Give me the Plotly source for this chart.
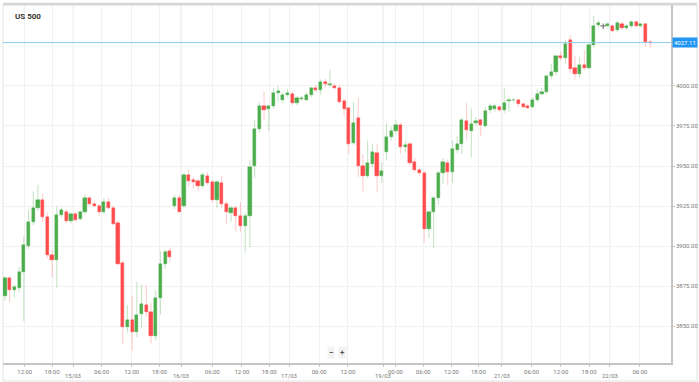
import plotly.graph_objects as go

# ---------------- data ----------------
opens = [3869, 3880, 3872.5, 3873.5, 3884, 3900, 3915, 3924, 3929, 3918,
         3894.5, 3891.5, 3919.5, 3921, 3915.5, 3920, 3917, 3921, 3930, 3926.5,
         3925, 3921, 3927.5, 3923.5, 3914.5, 3889.5, 3849.5, 3854, 3846.5, 3857.5,
         3863, 3859, 3844, 3867.5, 3889, 3897, 3925, 3930, 3925, 3944.5,
         3941, 3940.5, 3937.5, 3944, 3940, 3929, 3939.5, 3926, 3920.5, 3924,
         3918.5, 3912.5, 3919, 3950, 3973, 3987.5, 3985.5, 3987.5, 3995.5, 3991.5,
         3994.5, 3995, 3989.5, 3992, 3991.5, 3994.5, 3998.5, 3997.5, 4002.5, 4000.5,
         4000, 3999, 3990.5, 3986, 3964.5, 3980, 3950, 3943.5, 3951.5, 3958,
         3944, 3959, 3968, 3972, 3975.5, 3962, 3963.5, 3952.5, 3947.5, 3945.5,
         3910.5, 3921, 3930, 3945.5, 3952, 3946, 3960, 3964, 3978, 3972,
         3977, 3978.5, 3975, 3985, 3985.5, 3987, 3985, 3990.5, 3991, 3991,
         3988.5, 3987.5, 3987, 3991.5, 3995, 3996.5, 4006, 4009, 4018.5, 4017.5,
         4029, 4011, 4007.5, 4013, 4011.5, 4025.5, 4038, 4037.5, 4037.5, 4037.5,
         4035, 4039, 4036, 4037.5, 4040, 4037.5, 4038.5, 4027.5]
highs = [3881, 3881, 3876, 3887, 3906, 3922.5, 3934, 3938, 3932.5, 3921,
         3897.5, 3924.5, 3924, 3923, 3921, 3921, 3922, 3932, 3931, 3928,
         3926, 3930, 3930, 3925, 3916, 3891, 3863, 3869, 3877.5, 3876,
         3875.5, 3864.5, 3872.5, 3897, 3898, 3899, 3932, 3932, 3946, 3947.5,
         3943, 3942, 3946, 3946, 3941, 3941, 3944, 3928, 3925, 3925,
         3927.5, 3921, 3954, 3979, 3990, 3996.5, 3988, 3998.5, 4000, 3996,
         3998, 3997, 3993.5, 3994, 3996, 3999.5, 4001, 4004, 4004.5, 4010,
         4001.5, 4001, 3992, 3987, 3990, 3993, 3957.5, 3966, 3964, 3964,
         3952.5, 3976.5, 3974.5, 3978.5, 3977, 3966, 3965, 3955, 3949, 3946.5,
         3922, 3931, 3947, 3955, 3954, 3966, 3968.5, 3980, 3989.5, 3986,
         3980.5, 3979.5, 3987, 3989, 3989, 3988, 3998.5, 3993, 3992.5, 3992,
         3989.5, 3988.5, 3993, 3998, 3999, 4006.5, 4014, 4019, 4021.5, 4029,
         4032, 4018.5, 4018, 4022.5, 4027, 4044, 4041, 4039, 4040, 4038.5,
         4041, 4040, 4038.5, 4041, 4041, 4039, 4039.5, 4029]
lows = [3866, 3865, 3868, 3871, 3853, 3898, 3913, 3922, 3915, 3892.5,
        3880.5, 3874, 3918, 3914, 3914, 3915.5, 3916, 3920, 3925, 3924,
        3919, 3920, 3923, 3913, 3888, 3839, 3846, 3834.5, 3843, 3848.5,
        3856, 3839, 3841, 3857, 3886, 3890, 3923, 3921, 3924, 3937,
        3936, 3934.5, 3936, 3938, 3927, 3923.5, 3923.5, 3913.5, 3915, 3909,
        3909, 3896, 3899.5, 3942.5, 3971, 3979, 3972, 3986, 3990, 3989,
        3993, 3988, 3988, 3991, 3990.5, 3993, 3996.5, 3994.5, 3999, 3999.5,
        3998, 3989, 3981, 3957.5, 3963, 3943, 3933.5, 3942.5, 3949, 3933.5,
        3939.5, 3953.5, 3966, 3970, 3958, 3958.5, 3950.5, 3946, 3944, 3902,
        3905, 3898.5, 3925.5, 3939, 3938, 3939.5, 3958, 3957.5, 3966.5, 3955.5,
        3975, 3968.5, 3974, 3983, 3984, 3983.5, 3983, 3984, 3990, 3987,
        3986, 3985.5, 3986, 3990, 3994, 3995, 4004.5, 4006.5, 4016, 4014,
        4008, 4004, 4005, 4010, 4010.5, 4024, 4036.5, 4035.5, 4036, 4033.5,
        4033.5, 4035, 4035, 4036.5, 4036.5, 4036.5, 4024.5, 4023.5]
closes = [3880, 3872.5, 3874.5, 3884, 3900.5, 3915, 3924, 3929, 3918, 3894.5,
          3891.5, 3919.5, 3922.5, 3915.5, 3920, 3916.5, 3921, 3930, 3926, 3925,
          3921, 3927.5, 3924, 3914, 3889, 3849.5, 3854, 3846.5, 3857, 3863.5,
          3859, 3844, 3867.5, 3889, 3896.5, 3893, 3930, 3921.5, 3944.5, 3940.5,
          3940, 3937.5, 3944.5, 3939.5, 3929, 3940, 3926.5, 3921, 3924, 3918.5,
          3912.5, 3919, 3949.5, 3973, 3987.5, 3985, 3987.5, 3995.5, 3997, 3994.5,
          3995.5, 3989.5, 3992.5, 3992.5, 3994.5, 3998.5, 3997.5, 4002.5, 4001, 4001.5,
          3999, 3990, 3985.5, 3963.5, 3977, 3950, 3944, 3952, 3958.5, 3944,
          3947, 3968, 3972, 3975.5, 3962, 3963, 3952, 3947.5, 3945.5, 3910.5,
          3921, 3930, 3945.5, 3952.5, 3946, 3960.5, 3964, 3979, 3972.5, 3976.5,
          3978, 3975.5, 3984.5, 3987.5, 3987.5, 3985, 3989.5, 3991, 3991.5, 3988.5,
          3987, 3986.5, 3991.5, 3995, 3996.5, 4006, 4009, 4018.5, 4017.5, 4026.5,
          4010.5, 4007.5, 4013, 4011.5, 4025.5, 4037.5, 4039.5, 4037.5, 4038.5, 4034.5,
          4039.5, 4036, 4037.5, 4040, 4037.5, 4038.5, 4027.5, 4027.11]

time_tick_pos = [4.2, 10.0, 20.5, 26.9, 32.8, 44.0, 50.3, 56.1, 66.7, 72.8,
                 82.9, 88.8, 94.8, 100.5, 111.8, 118.0, 124.0, 134.8]
time_tick_labels = ["12:00", "18:00", "06:00", "12:00", "18:00", "06:00", "12:00", "18:00",
                    "06:00", "12:00", "00:00", "06:00", "12:00", "18:00", "06:00", "12:00",
                    "18:00", "06:00"]
date_tick_pos = [14.5, 37.4, 60.4, 80.3, 105.5, 128.4]
date_tick_labels = ["15/03", "16/03", "17/03", "19/03", "21/03", "22/03"]

price_ticks = [3850, 3875, 3900, 3925, 3950, 3975, 4000]
last_price = 4027.11
title_text = "US 500"

# ---------------- styles ----------------
UP = "#4cae4c"
DOWN = "#ff4d4d"
UP_WICK = "rgba(76,174,76,0.35)"
DOWN_WICK = "rgba(255,77,77,0.30)"
FLAT = "#666666"
FONT = "Roboto"
LABEL = "#7a7a7a"

n = len(opens)
idx = list(range(n))

fig = go.Figure()

# wicks
groups = {"up": ([], []), "down": ([], []), "flat": ([], [])}
for i in idx:
    g = "up" if closes[i] > opens[i] else ("down" if closes[i] < opens[i] else "flat")
    xs, ys = groups[g]
    xs += [i, i, None]
    ys += [lows[i], highs[i], None]
for g, col in (("up", UP_WICK), ("down", DOWN_WICK), ("flat", FLAT)):
    xs, ys = groups[g]
    fig.add_trace(go.Scatter(x=xs, y=ys, mode="lines", line=dict(color=col, width=1),
                             hoverinfo="skip", showlegend=False))

# bodies
for direction, col in (("up", UP), ("down", DOWN)):
    bx, bbase, bh = [], [], []
    for i in idx:
        if (direction == "up" and closes[i] > opens[i]) or (direction == "down" and closes[i] < opens[i]):
            bx.append(i)
            bbase.append(min(opens[i], closes[i]))
            bh.append(abs(closes[i] - opens[i]))
    fig.add_trace(go.Bar(x=bx, y=bh, base=bbase, width=0.68,
                         marker=dict(color=col, line=dict(color=col, width=0.4)),
                         showlegend=False, hoverinfo="skip"))

# flat (doji) bodies
fx = [i for i in idx if closes[i] == opens[i]]
fy = [opens[i] for i in fx]
fig.add_trace(go.Scatter(x=fx, y=fy, mode="markers",
                         marker=dict(symbol="line-ew", size=4, line=dict(color=FLAT, width=1)),
                         showlegend=False, hoverinfo="skip"))

# ticks: time labels on the axis, day boundaries get a tick with the date on a second row
all_pos = time_tick_pos + date_tick_pos
all_txt = time_tick_labels + [""] * len(date_tick_pos)
order = sorted(range(len(all_pos)), key=lambda k: all_pos[k])
tickvals = [all_pos[k] for k in order]
ticktext = [all_txt[k] for k in order]

for p, d in zip(date_tick_pos, date_tick_labels):
    fig.add_shape(type="line", xref="x", yref="paper", x0=p, x1=p, y0=0, y1=1,
                  line=dict(color="#e4e4e4", width=1), layer="below")
    fig.add_annotation(xref="x", yref="paper", x=p, y=-0.0363, xanchor="center", yanchor="middle",
                       text=d, showarrow=False, font=dict(family=FONT, size=6, color=LABEL))

# last price line
fig.add_shape(type="line", xref="paper", yref="y", x0=0, x1=1, y0=last_price, y1=last_price,
              line=dict(color="#8ecdf0", width=1))
fig.add_annotation(xref="paper", yref="y", x=1.0, y=last_price, xanchor="left", yanchor="middle",
                   text=f"{last_price:.2f}", showarrow=False,
                   font=dict(family=FONT, size=6, color="white"),
                   bgcolor="#2196f3", borderpad=1, xshift=1)

# title
fig.add_annotation(xref="paper", yref="paper", x=0.0145, y=0.969, xanchor="left", yanchor="middle",
                   text=f"<b>{title_text}</b>", showarrow=False,
                   font=dict(family=FONT, size=8, color="#333333"))

# zoom controls
for xp, t in ((0.4906, "−"), (0.5085, "+")):
    fig.add_annotation(xref="paper", yref="paper", x=xp, y=0.028, xanchor="center", yanchor="middle",
                       text=f"<b>{t}</b>", showarrow=False, bgcolor="#f3f3f3",
                       font=dict(family=FONT, size=8, color="#555555"), borderpad=1)

# outer frame
fig.add_shape(type="rect", xref="paper", yref="paper", x0=0, x1=(697 - 3) / 668,
              y0=(363 - 381) / 358, y1=1, line=dict(color="#e2e2e2", width=1), layer="below")
fig.add_shape(type="line", xref="paper", yref="paper", x0=0, x1=(697 - 3) / 668, y0=1.003, y1=1.003,
              line=dict(color="#d6d6d6", width=2.5))

fig.update_layout(
    width=699, height=382,
    margin=dict(l=3, r=28, t=5, b=19, autoexpand=False),
    paper_bgcolor="white", plot_bgcolor="white",
    barmode="overlay", bargap=0, showlegend=False,
    font=dict(family=FONT, size=6, color=LABEL),
    xaxis=dict(range=[-0.42, 141.4], tickmode="array", tickvals=tickvals, ticktext=ticktext,
               showgrid=True, gridcolor="#f1f1f1", gridwidth=1, zeroline=False,
               showline=True, linecolor="#c4c4c4", linewidth=1.5,
               ticks="outside", ticklen=2, tickcolor="#c4c4c4", tickangle=0, automargin=False,
               tickfont=dict(family=FONT, size=6, color=LABEL), fixedrange=True),
    yaxis=dict(range=[3826.9, 4050.6], side="right", tickmode="array", tickvals=price_ticks,
               ticktext=[f"{v:.2f}" for v in price_ticks], automargin=False,
               showgrid=True, gridcolor="#f1f1f1", gridwidth=1, zeroline=False,
               showline=True, linecolor="#c4c4c4", linewidth=1.5,
               ticks="outside", ticklen=2, tickcolor="#c4c4c4",
               tickfont=dict(family=FONT, size=6, color=LABEL), fixedrange=True),
)

fig.write_html("out.html", config={"displayModeBar": False},
               post_script="document.body.style.margin='0';document.body.style.padding='0';")
